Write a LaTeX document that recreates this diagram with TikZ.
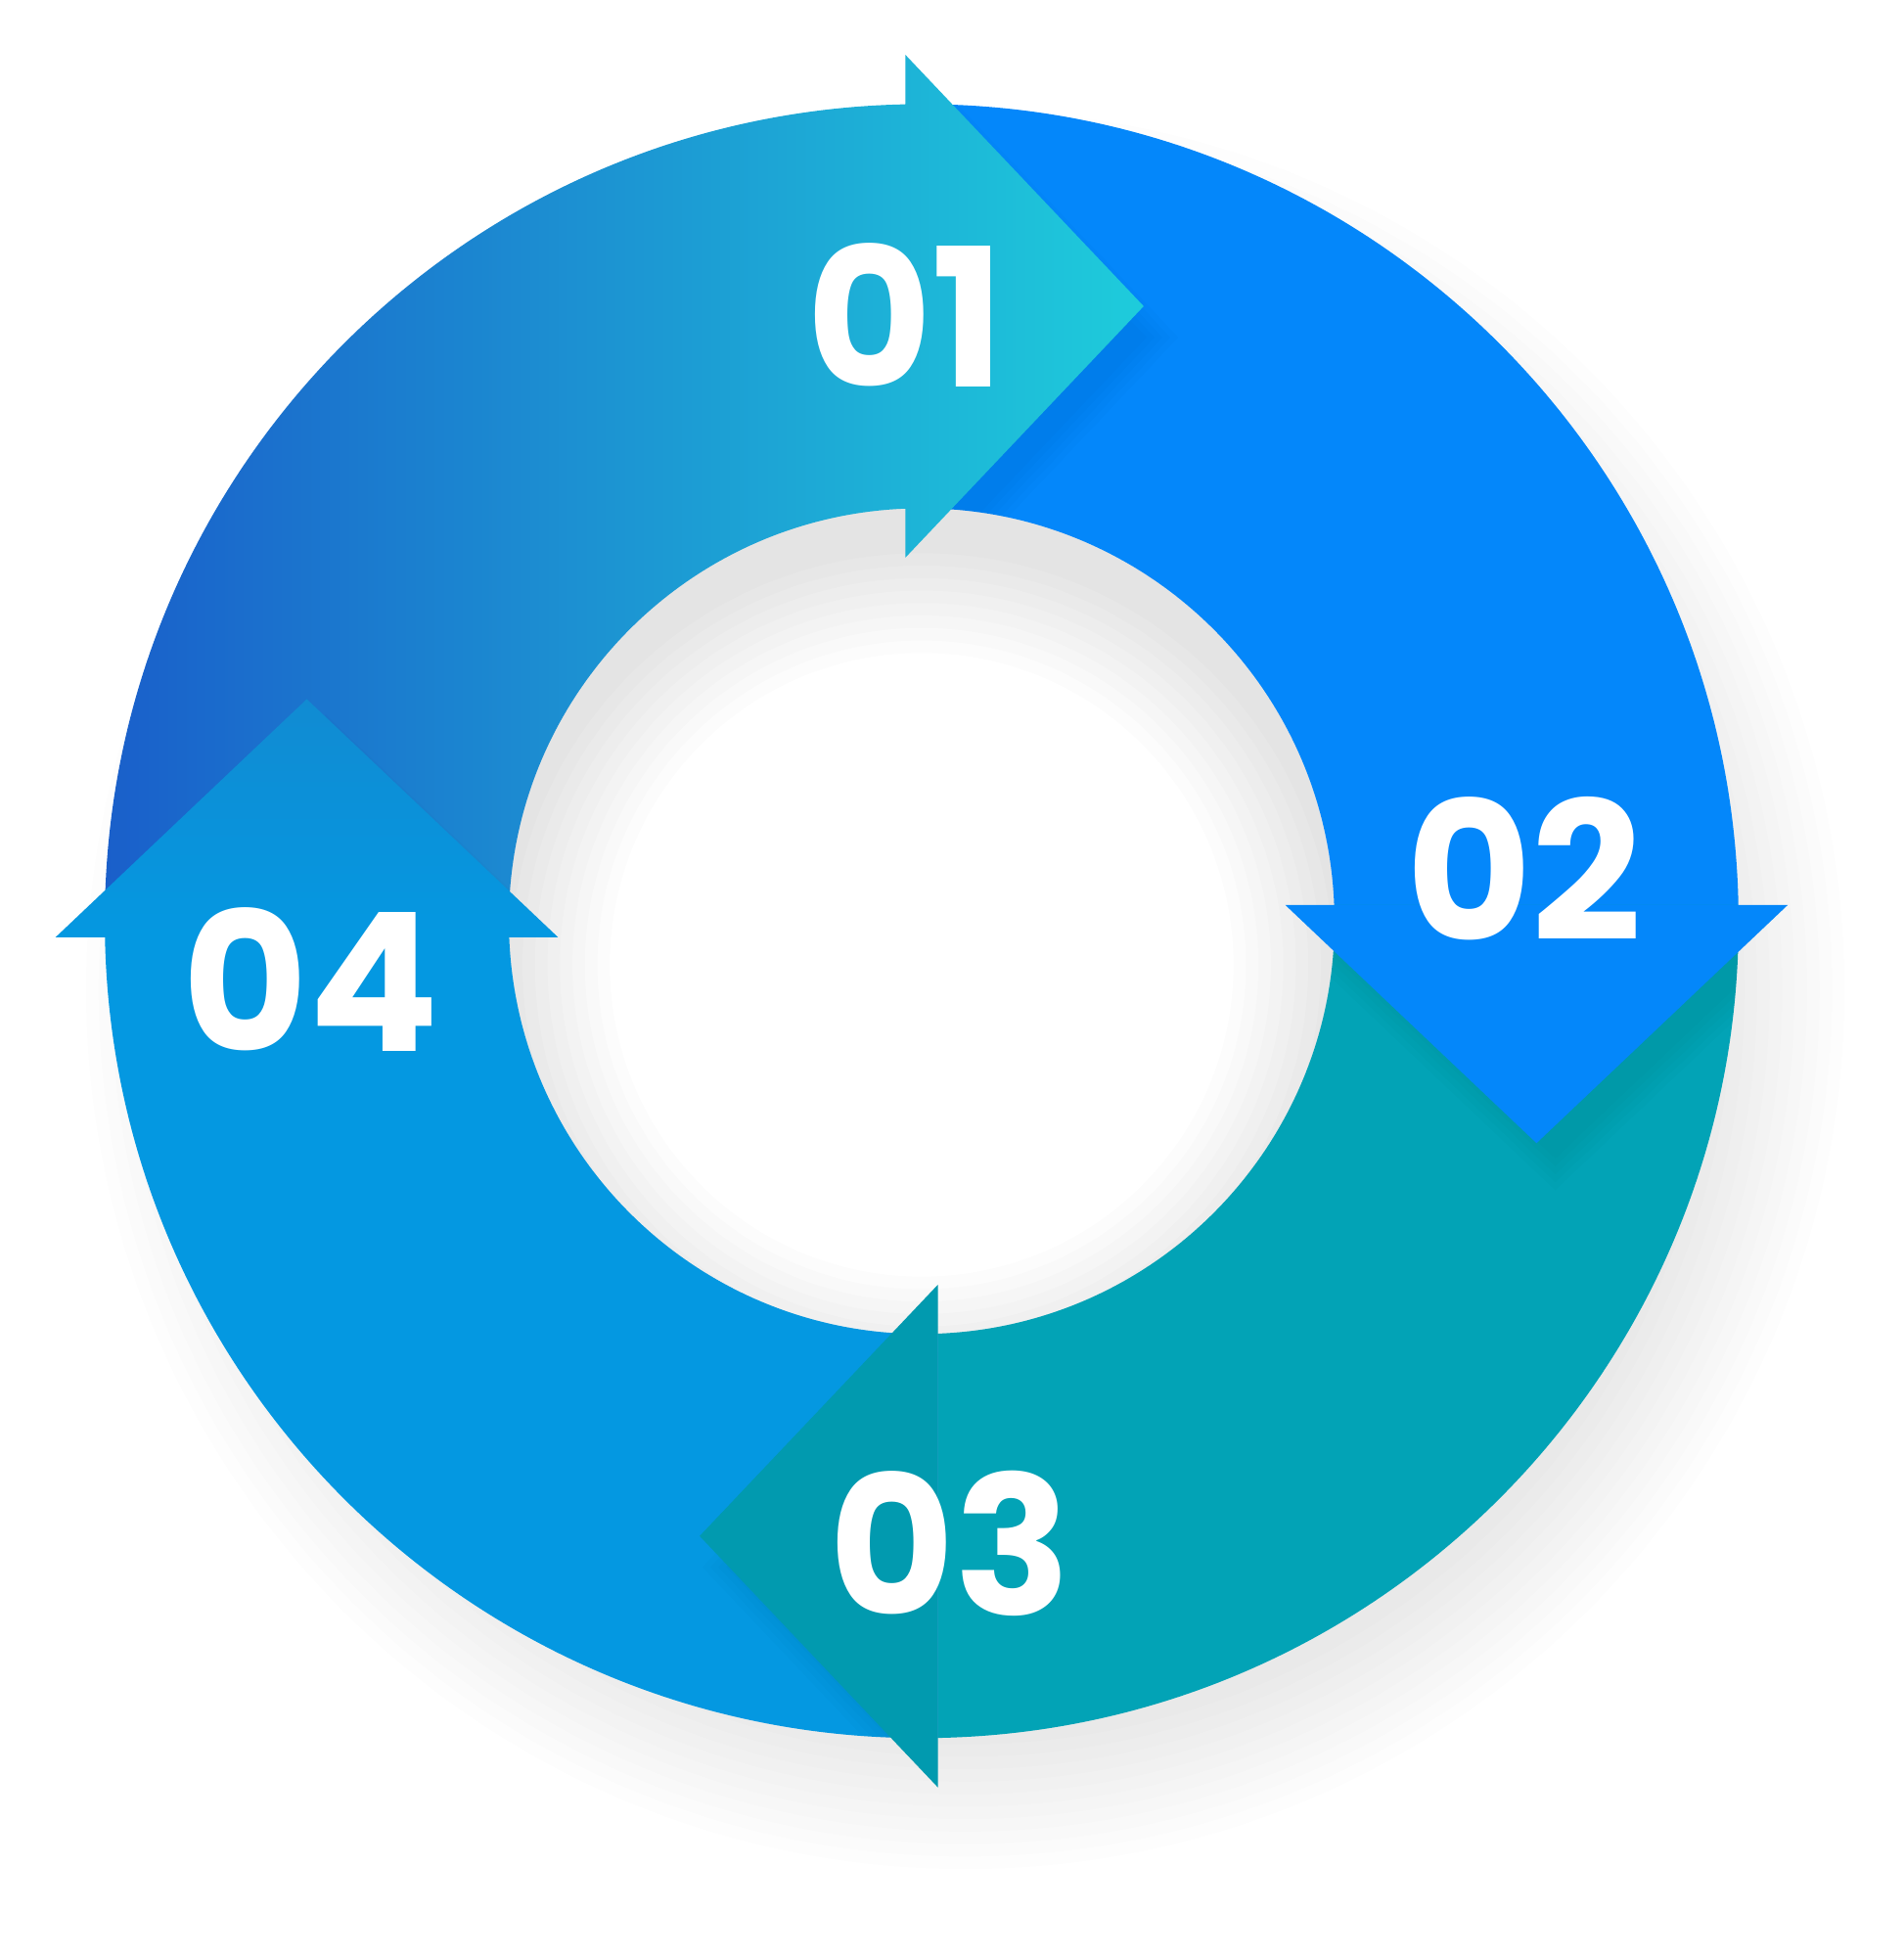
\documentclass[tikz,border=0pt]{standalone}
\usepackage{fontspec}
\newfontfamily\numfont{Poppins}
\definecolor{ringdark}{HTML}{1A5ECA}
\definecolor{ringmid}{HTML}{1A9ED5}
\definecolor{ringcyan}{HTML}{1ECCDB}
\definecolor{ringblue}{HTML}{0487FA}
\definecolor{ringteal}{HTML}{02A3B6}
\definecolor{ringsky}{HTML}{0498E1}
\definecolor{headteal}{HTML}{019AAF}
\definecolor{headsky}{HTML}{118BD2}
% one quarter of the ring and its arrow head, drawn for the top left quarter
\def\shaftpath{(181.137:655) arc[start angle=181.137, end angle=91.137, radius=655]
  -- (92.251:331) arc[start angle=92.251, end angle=182.251, radius=331] -- cycle}
\def\headpath{(-13,694.5) -- (178,493) -- (-13,291.5) -- cycle}
\begin{document}
\begin{tikzpicture}[x=0.01cm, y=0.01cm,
    num/.style={text=white, inner sep=0pt, font=\numfont\bfseries\fontsize{44}{44}\selectfont}]
    \fill[white] (-739,-830.5) rectangle (787.6,738.5);
    \useasboundingbox (-739,-830.5) rectangle (787.6,738.5);
    % soft shadow round the ring
    \foreach \s in {-50,-40,...,50}
        \fill[black, opacity=0.006, even odd rule]
            (35,-55) circle[radius=655+\s] (0,0) circle[radius=331];
    % shadow inside the hole
    \begin{scope}
        \clip (0,0) circle[radius=331];
        \foreach \s in {-40,-30,...,40}
            \fill[black, opacity=0.01, even odd rule]
                (0,0) circle[radius=340] (0,-35) circle[radius=290+\s];
    \end{scope}
    % quarters 02, 03, 04
    \fill[ringblue, rotate=-90] \shaftpath;
    \fill[ringteal, rotate=-180] \shaftpath;
    \fill[ringsky, rotate=-270] \shaftpath;
    % shadow of head 01
    \begin{scope}
        \clip[rotate=-90] \shaftpath;
        \foreach \f in {0.9,0.95,...,1.1}
            \fill[black, opacity=0.012, shift={(15,-25)}, scale around={\f:(50.7,493)}] \headpath;
    \end{scope}
    % quarter 01 with its head
    \shade[left color=ringdark, middle color=ringmid, right color=ringcyan]
        \shaftpath \headpath;
    % shadows of heads 02, 03, 04
    \foreach \r in {-90,-180,-270}{
        \begin{scope}
            \clip[rotate=\r-90] \shaftpath;
            \foreach \f in {0.9,0.95,...,1.1}
                \fill[black, opacity=0.012, shift={(15,-25)}, rotate=\r, scale around={\f:(50.7,493)}] \headpath;
        \end{scope}
    }
    % heads 02, 03, 04
    \fill[ringblue, rotate=-90] \headpath;
    \fill[headteal, rotate=-180] \headpath;
    \shade[top color=headsky, bottom color=ringsky, rotate=-270] \headpath;
    % labels
    \node[num] (n01) at (-13,486) {01};
    \node[num] (n02) at (483,42) {02};
    \node[num] (n03) at (23,-499) {03};
    \node[num] (n04) at (-489.5,-46.5) {04};
\end{tikzpicture}
\end{document}
